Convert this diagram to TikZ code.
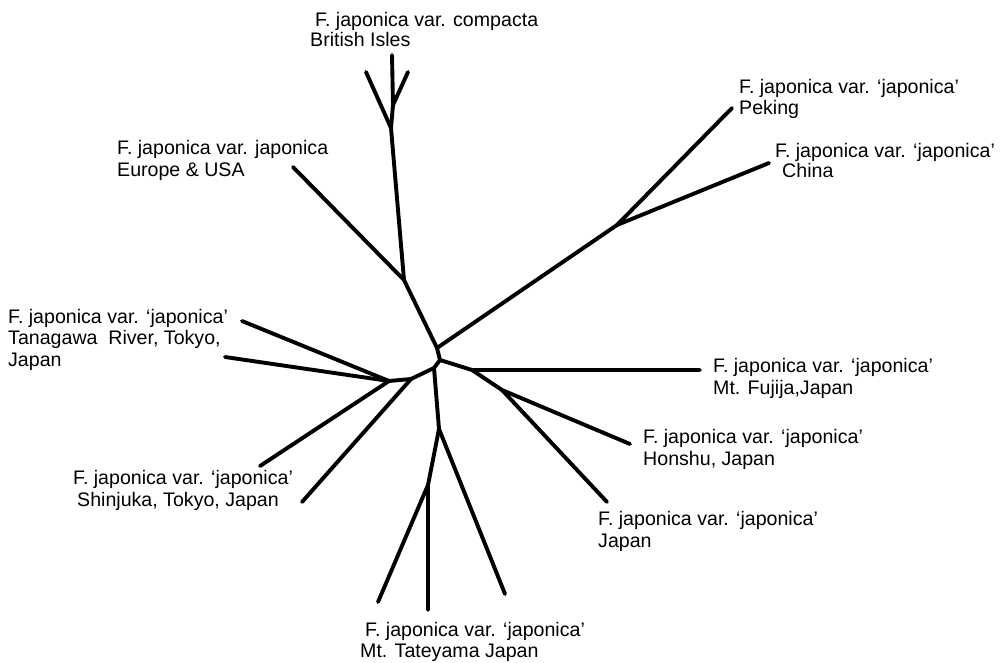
\documentclass[tikz,border=0pt]{standalone}
\usepackage{fontspec}
\setmainfont{Liberation Sans}
\newcommand\labtext[1]{\begin{tabular}[t]{@{}l@{}}#1\end{tabular}}
\begin{document}
\begin{tikzpicture}[x=1pt,y=-1pt,
  branch/.style={line width=3.9pt,line cap=round,line join=round},
  lab/.style={anchor=base west,inner sep=0pt,font=\fontsize{19.6}{21.5}\selectfont}]
\useasboundingbox (0,0) rectangle (1003,663);
% tree points
\coordinate (tv) at (392,55);
\coordinate (tl) at (366,72);
\coordinate (tr) at (408,72);
\coordinate (t2) at (393,105);
\coordinate (t1) at (391,128);
\coordinate (n1) at (404,280);
\coordinate (eu) at (293,167);
\coordinate (c1) at (437,348);
\coordinate (e1) at (617,225);
\coordinate (pk) at (732,108);
\coordinate (ch) at (769,163);
\coordinate (c2) at (440,360);
\coordinate (c3) at (434,368);
\coordinate (r1) at (472,370);
\coordinate (fj) at (700,370);
\coordinate (r2) at (502,390);
\coordinate (hs) at (630,444);
\coordinate (jp) at (607,502);
\coordinate (l1) at (411,379);
\coordinate (l2) at (389,381);
\coordinate (ta) at (242,321);
\coordinate (tb) at (225,357);
\coordinate (sa) at (260,466);
\coordinate (sb) at (302,502);
\coordinate (d1) at (439,429);
\coordinate (d2) at (428,485);
\coordinate (ba) at (378,602);
\coordinate (bb) at (428,610);
\coordinate (bc) at (505,594);
% branches
\draw[branch] (tv) -- (t2) -- (t1) -- (n1) -- (c1) -- (c2) -- (c3) -- (d1) -- (d2) -- (bb);
\draw[branch] (tr) -- (t2);
\draw[branch] (tl) -- (t1);
\draw[branch] (eu) -- (n1);
\draw[branch] (c1) -- (e1) -- (pk);
\draw[branch] (e1) -- (ch);
\draw[branch] (c2) -- (r1) -- (fj);
\draw[branch] (r1) -- (r2) -- (hs);
\draw[branch] (r2) -- (jp);
\draw[branch] (c3) -- (l1) -- (l2) -- (ta);
\draw[branch] (l2) -- (tb);
\draw[branch] (l2) -- (sa);
\draw[branch] (l1) -- (sb);
\draw[branch] (d1) -- (bc);
\draw[branch] (d2) -- (ba);
% labels
\node[lab] (lcomp) at (310,27) {\labtext{\hspace*{5pt}F. japonica var. compacta\\[-1.5pt]British Isles}};
\node[lab] (leur) at (117,155) {\labtext{F. japonica var. japonica\\Europe \& USA}};
\node[lab] (lpek) at (739,93.5) {\labtext{F. japonica var. ‘japonica’\\Peking}};
\node[lab] (lchi) at (775,158) {\labtext{F. japonica var. ‘japonica’\\[-1.5pt]\hspace*{7pt}China}};
\node[lab] (ltan) at (8,323) {\labtext{F. japonica var. ‘japonica’\\Tanagawa~~River, Tokyo,\\Japan}};
\node[lab] (lfuj) at (713,372) {\labtext{F. japonica var. ‘japonica’\\[0.5pt]Mt. Fujija,Japan}};
\node[lab] (lhon) at (643,443) {\labtext{F. japonica var. ‘japonica’\\[1pt]Honshu, Japan}};
\node[lab] (ljap) at (598,525) {\labtext{F. japonica var. ‘japonica’\\[0.5pt]Japan}};
\node[lab] (lshi) at (73,484) {\labtext{F. japonica var. ‘japonica’\\[0.5pt]\hspace*{4pt}Shinjuka, Tokyo, Japan}};
\node[lab] (ltat) at (360,636) {\labtext{\hspace*{5pt}F. japonica var. ‘japonica’\\[-0.5pt]Mt. Tateyama Japan}};
\end{tikzpicture}
\end{document}
